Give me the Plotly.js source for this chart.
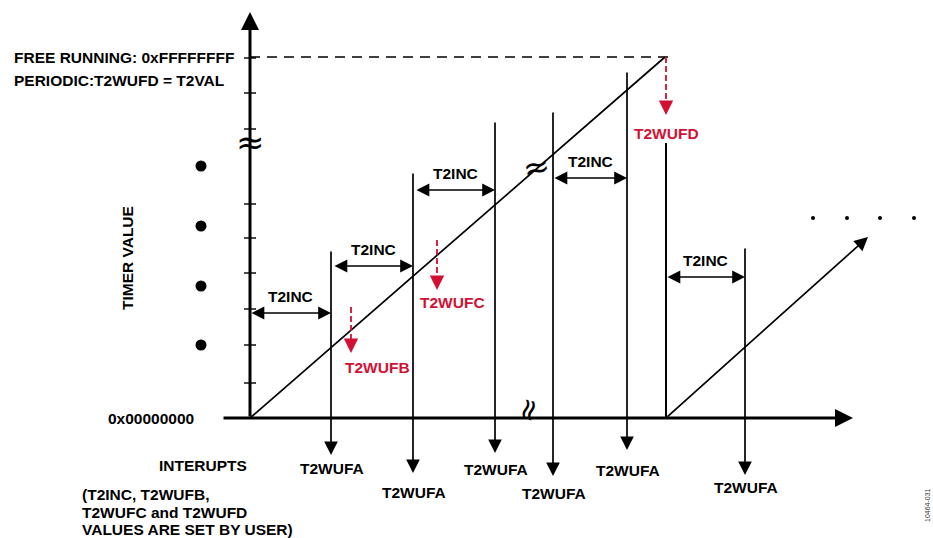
<!DOCTYPE html>
<html><head><meta charset="utf-8">
<script src="https://cdn.plot.ly/plotly-3.0.1.min.js"></script>
<style>html,body{margin:0;padding:0;background:#fff}</style>
</head><body><div id="chart" style="width:933px;height:538px"></div>
<script>
// ---- diagram data: time (horizontal) and timer value (vertical), in diagram units ----
const TIMER_MAX = 361;                       // 0xFFFFFFFF / T2VAL level
const yTickValues = [35, 73, 109, 145, 180, 214, 289, 325, 360];
const rampTime = [0, 415];
const rampValue = [0, 361];
const ramp2Time = [416, 618];
const ramp2Value = [0, 181];
const wufaTimes = [81, 163, 245, 303, 377, 495];
const wufaLineTops = [168, 246, 297, 307, 347, 171];
const wufaArrowTips = [-37, -55, -35, -58, -32, -57];
const wufaLabelY = [-50, -74, -51, -75, -52, -69];
const wufaLabel = 'T2WUFA';
const incStart = [0, 83, 165, 303, 416];
const incEnd = [81, 163, 245, 377, 495];
const incLevel = [105, 152, 228, 240, 141];
const incLabel = 'T2INC';
const compareNames = ['T2WUFB', 'T2WUFC', 'T2WUFD'];
const compareTimes = [101, 187, 416];
const compareFrom = [111, 178, 361];
const compareTo = [65, 128, 303];
const compareLabelX = [127, 202, 416];
const compareLabelY = [51, 116, 285];
const periodicResumeValue = 275;
const leftDotValues = [252, 192, 132, 73];
const trailingDotTimes = [563, 597, 630, 664];
const trailingDotValue = 200;
const noteLines = ['(T2INC, T2WUFB,', 'T2WUFC and T2WUFD', 'VALUES ARE SET BY USER)'];
const noteY = [-76, -94, -111];

const BLACK = '#000000';
const RED = '#d21034';
const FONT = 'Liberation Sans, Arial, sans-serif';
const FS = 15.5;
const txt = (size, color) => ({family: FONT, size: size, color: color || BLACK, weight: 700});

const traces = [];
const ann = [];

// y axis ticks
const tx = [], ty = [];
yTickValues.forEach(v => { tx.push(-6, 6, null); ty.push(v, v, null); });
traces.push({x: tx, y: ty, mode: 'lines', line: {color: BLACK, width: 1.4}, hoverinfo: 'skip'});

// dashed max line
traces.push({x: [0, rampTime[1] + 3], y: [TIMER_MAX, TIMER_MAX], mode: 'lines',
  line: {color: BLACK, width: 1.6, dash: '10px,7px'}, hoverinfo: 'skip'});

// ramp 1
traces.push({x: rampTime, y: rampValue, mode: 'lines', line: {color: BLACK, width: 1.7}, hoverinfo: 'skip'});

// reset vertical (below T2WUFD label)
traces.push({x: [ramp2Time[0], ramp2Time[0]], y: [0, periodicResumeValue], mode: 'lines',
  line: {color: BLACK, width: 2}, hoverinfo: 'skip'});

// red dashed compare lines
compareNames.forEach((n, i) => {
  traces.push({x: [compareTimes[i], compareTimes[i]], y: [compareFrom[i], compareTo[i] + 10], mode: 'lines',
    line: {color: RED, width: 1.8, dash: '6px,3px'}, hoverinfo: 'skip'});
  ann.push({x: compareTimes[i], y: compareTo[i], ax: compareTimes[i], ay: compareTo[i] + 12,
    xref: 'x', yref: 'y', axref: 'x', ayref: 'y', text: '', showarrow: true,
    arrowhead: 2, arrowsize: 1.6, arrowwidth: 1.8, arrowcolor: RED, standoff: 0, startstandoff: 0});
  ann.push({x: compareLabelX[i], y: compareLabelY[i], xref: 'x', yref: 'y', text: n,
    showarrow: false, font: txt(FS, RED)});
});

// left dots
traces.push({x: leftDotValues.map(() => -49), y: leftDotValues, mode: 'markers',
  marker: {color: BLACK, size: 11}, hoverinfo: 'skip'});
// trailing dots
traces.push({x: trailingDotTimes, y: trailingDotTimes.map(() => trailingDotValue), mode: 'markers',
  marker: {color: BLACK, size: 4}, hoverinfo: 'skip'});

// axes with arrows
ann.push({x: 0, y: 406, ax: 0, ay: 0, xref: 'x', yref: 'y', axref: 'x', ayref: 'y', text: '',
  showarrow: true, arrowhead: 2, arrowsize: 1.2, arrowwidth: 3, arrowcolor: BLACK, standoff: 0});
ann.push({x: 603, y: 0, ax: -28, ay: 0, xref: 'x', yref: 'y', axref: 'x', ayref: 'y', text: '',
  showarrow: true, arrowhead: 2, arrowsize: 1.2, arrowwidth: 3, arrowcolor: BLACK, standoff: 0});

// ramp 2 with arrow
ann.push({x: ramp2Time[1], y: ramp2Value[1], ax: ramp2Time[0], ay: ramp2Value[0], xref: 'x', yref: 'y',
  axref: 'x', ayref: 'y', text: '', showarrow: true, arrowhead: 2, arrowsize: 1.6, arrowwidth: 1.7,
  arrowcolor: BLACK, standoff: 0});

// T2WUFA interrupt lines
wufaTimes.forEach((t, i) => {
  ann.push({x: t, y: wufaArrowTips[i], ax: t, ay: wufaLineTops[i], xref: 'x', yref: 'y', axref: 'x', ayref: 'y',
    text: '', showarrow: true, arrowhead: 2, arrowsize: 1.6, arrowwidth: 1.7, arrowcolor: BLACK, standoff: 0});
  ann.push({x: t + 1, y: wufaLabelY[i], xref: 'x', yref: 'y', text: wufaLabel, showarrow: false,
    font: txt(FS), yanchor: 'middle'});
});

// T2INC double arrows
incStart.forEach((s, i) => {
  ann.push({x: incEnd[i], y: incLevel[i], ax: s, ay: incLevel[i], xref: 'x', yref: 'y', axref: 'x', ayref: 'y',
    text: '', showarrow: true, arrowhead: 2, startarrowhead: 2, arrowside: 'end+start', arrowsize: 1.6,
    startarrowsize: 1.6, arrowwidth: 1.6, arrowcolor: BLACK, standoff: 0, startstandoff: 0});
  ann.push({x: (s + incEnd[i]) / 2, y: incLevel[i] + 17, xref: 'x', yref: 'y', text: incLabel,
    showarrow: false, font: txt(FS)});
});

// break marks
ann.push({x: 0, y: 276, xref: 'x', yref: 'y', text: '≈', showarrow: false, font: {family: 'DejaVu Sans', size: 34, color: BLACK}});
ann.push({x: 286, y: 251, xref: 'x', yref: 'y', text: '≈', showarrow: false, textangle: -12, font: {family: 'DejaVu Sans', size: 32, color: BLACK}});
ann.push({x: 277, y: 8, xref: 'x', yref: 'y', text: '≈', showarrow: false, textangle: -75, font: {family: 'DejaVu Sans', size: 30, color: BLACK}});

// text labels
ann.push({x: -238, y: TIMER_MAX, xref: 'x', yref: 'y', xanchor: 'left', text: 'FREE RUNNING: 0xFFFFFFFF', showarrow: false, font: txt(FS)});
ann.push({x: -238, y: 338, xref: 'x', yref: 'y', xanchor: 'left', text: 'PERIODIC:T2WUFD = T2VAL', showarrow: false, font: txt(FS)});
ann.push({x: -123, y: 160, xref: 'x', yref: 'y', text: 'TIMER VALUE', textangle: -90, showarrow: false, font: txt(FS)});
ann.push({x: -54, y: 0, xref: 'x', yref: 'y', xanchor: 'right', text: '0x00000000', showarrow: false, font: txt(FS)});
ann.push({x: -47, y: -47, xref: 'x', yref: 'y', text: 'INTERUPTS', showarrow: false, font: txt(FS)});
noteLines.forEach((l, i) => ann.push({x: -170, y: noteY[i], xref: 'x', yref: 'y', xanchor: 'left', text: l,
  showarrow: false, font: txt(FS)}));
ann.push({x: 677, y: -87, xref: 'x', yref: 'y', text: '10464-031', textangle: -90, showarrow: false,
  font: {family: FONT, size: 7, color: '#333'}});

const layout = {
  width: 933, height: 538, autosize: false,
  margin: {l: 0, r: 0, t: 0, b: 0, pad: 0},
  paper_bgcolor: '#fff', plot_bgcolor: '#fff',
  showlegend: false,
  xaxis: {range: [-250, 683], visible: false, fixedrange: true},
  yaxis: {range: [-120, 418], visible: false, fixedrange: true},
  annotations: ann
};
Plotly.newPlot('chart', traces, layout, {displayModeBar: false, staticPlot: true});
</script></body></html>
